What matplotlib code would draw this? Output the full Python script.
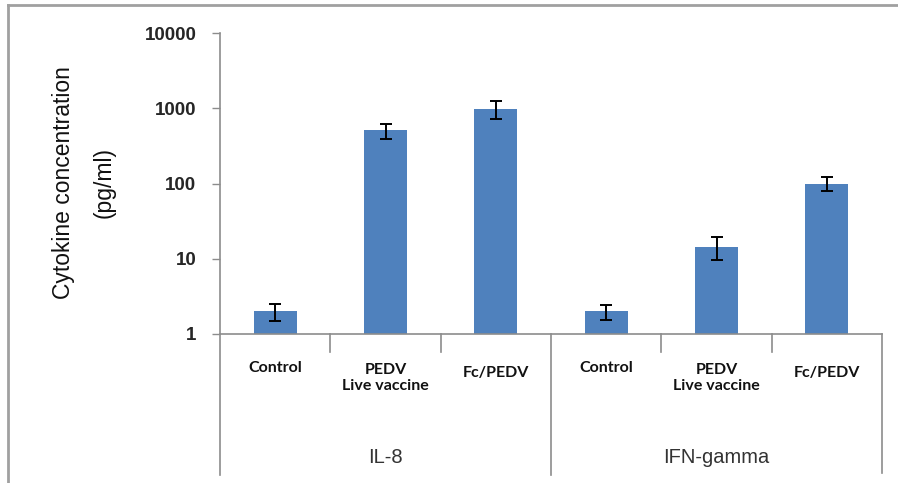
import numpy as np
import matplotlib.pyplot as plt
from matplotlib.lines import Line2D

# datos
grupos = ['IL-8', 'IFN-gamma']
categorias = ['Control', 'PEDV\nLive vaccine', 'Fc/PEDV']
valores_il8 = [2.0, 510, 980]
errores_il8 = [0.5, 115, 250]
valores_ifn = [2.0, 14.5, 100]
errores_ifn = [0.45, 5, 21]

valores = valores_il8 + valores_ifn
errores = errores_il8 + errores_ifn
etiquetas = categorias * len(grupos)
x = np.arange(len(valores))

gris = '#8c8c8c'
azul = '#4f81bd'

fig = plt.figure(figsize=(8.98, 4.83), dpi=100)
ax = fig.add_axes([220 / 898, 1 - 334 / 483, (882 - 220) / 898, (334 - 33) / 483])

ax.bar(x, valores, width=0.39, color=azul, zorder=2)
ax.errorbar(x, valores, yerr=errores, fmt='none', ecolor='black',
            elinewidth=1.4, capsize=4, capthick=1.4, zorder=3)

ax.set_yscale('log')
ax.set_ylim(1, 10000)
ax.set_xlim(-0.5, len(valores) - 0.5)
ax.set_yticks([1, 10, 100, 1000, 10000])
ax.set_yticklabels(['1', '10', '100', '1000', '10000'],
                   fontfamily='Liberation Sans', fontsize=13.5, fontweight='bold',
                   color='#262626')
ax.yaxis.set_minor_locator(plt.NullLocator())
ax.tick_params(axis='y', length=6, width=1, color=gris, direction='out', pad=11)
ax.set_xticks([])

for lado in ['top', 'right', 'left']:
    ax.spines[lado].set_visible(False)
ax.spines['bottom'].set_color(gris)
ax.spines['bottom'].set_linewidth(1.2)

trans = ax.get_xaxis_transform()
# eje y prolongado hacia abajo
ax.add_line(Line2D([-0.5, -0.5], [1, -0.468], transform=trans, color=gris,
                   lw=1.2, clip_on=False))
# separadores entre categorias y grupos
for i in range(1, len(valores)):
    largo = -0.468 if i % 3 == 0 else -0.06
    ax.add_line(Line2D([i - 0.5, i - 0.5], [0, largo], transform=trans,
                       color=gris, lw=1.2, clip_on=False))
ax.add_line(Line2D([len(valores) - 0.5] * 2, [0, -0.462], transform=trans,
                   color=gris, lw=1.2, clip_on=False))

# posicion vertical de cada etiqueta (como en el original)
alto_etiqueta = [-0.113, -0.146, -0.130] * len(grupos)
for xi, et, yy in zip(x, etiquetas, alto_etiqueta):
    ax.text(xi, yy, et, transform=trans, ha='center', va='center',
            fontfamily='Lato', fontweight='bold', fontsize=11.5,
            linespacing=1.25, color='#111111')

for j, g in enumerate(grupos):
    ax.text(j * 3 + 1, -0.409, g, transform=trans, ha='center', va='center',
            fontfamily='Liberation Sans', fontsize=14.5, color='#333333')

fig.text(84 / 898, 1 - 183 / 483, 'Cytokine concentration\n(pg/ml)',
         rotation=90, ha='center', va='center', fontfamily='Liberation Sans',
         fontsize=16.5, linespacing=2.0, color='#111111')

# marco exterior
fig.add_artist(Line2D([8 / 898, 1], [1 - 5 / 483, 1 - 5 / 483],
                      transform=fig.transFigure, color='#a0a0a0', lw=2))
fig.add_artist(Line2D([8 / 898, 8 / 898], [0, 1 - 5 / 483],
                      transform=fig.transFigure, color='#a0a0a0', lw=2))

fig.savefig('out.png', dpi=100)
